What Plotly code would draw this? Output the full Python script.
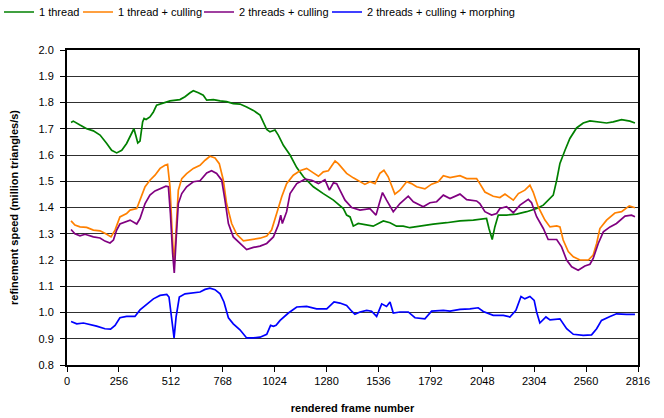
import plotly.graph_objects as go

# ---- data ----
green_x = [20, 31, 64, 97, 130, 163, 196, 220, 245, 270, 294, 319, 330, 340, 349, 360, 373, 380, 390, 409, 426, 442, 475, 508, 557, 582, 607, 623, 648, 672, 689, 722, 755, 787, 820, 853, 886, 919, 952, 968, 985, 1001, 1026, 1042, 1067, 1100, 1133, 1166, 1215, 1264, 1314, 1363,
           1379, 1396, 1404, 1412, 1436, 1478, 1510, 1560, 1593, 1625, 1658, 1691, 1741, 1806, 1872, 1938, 2004, 2036, 2069, 2081, 2097, 2110, 2127, 2168, 2217, 2267, 2316, 2349, 2382, 2398, 2415, 2431, 2456, 2480, 2513, 2546, 2579, 2612, 2661, 2694, 2735, 2776, 2801]
green_y = [1.724, 1.729, 1.714, 1.700, 1.692, 1.676, 1.644, 1.618, 1.608, 1.618, 1.644, 1.682, 1.700, 1.672, 1.646, 1.653, 1.726, 1.739, 1.735, 1.745, 1.764, 1.790, 1.799, 1.806, 1.811, 1.822, 1.837, 1.845, 1.837, 1.828, 1.809, 1.811, 1.806, 1.803, 1.796, 1.794, 1.783, 1.770, 1.752, 1.726, 1.697, 1.688, 1.695, 1.676, 1.637, 1.600, 1.552, 1.517, 1.479, 1.453, 1.428, 1.396,
           1.371, 1.364, 1.345, 1.329, 1.339, 1.333, 1.329, 1.349, 1.342, 1.329, 1.329, 1.323, 1.330, 1.337, 1.342, 1.349, 1.352, 1.354, 1.358, 1.320, 1.278, 1.326, 1.371, 1.371, 1.375, 1.384, 1.396, 1.409, 1.434, 1.447, 1.504, 1.568, 1.618, 1.663, 1.703, 1.722, 1.730, 1.726, 1.722, 1.726, 1.735, 1.729, 1.722]

orange_x = [20, 39, 64, 97, 130, 163, 196, 217, 237, 261, 294, 311, 344, 360, 385, 409, 434, 459, 483, 496, 508, 518, 528, 538, 549, 566, 590, 623, 656, 681, 705, 730, 751, 771, 787, 812, 837, 870, 903, 952, 985, 1009, 1034, 1059, 1083, 1116, 1149, 1182, 1215, 1240, 1264, 1289, 1305, 1322, 1338, 1363,
            1379, 1412, 1445, 1469, 1494, 1519, 1543, 1563, 1584, 1617, 1642, 1675, 1699, 1724, 1765, 1798, 1831, 1856, 1889, 1938, 1971, 2020, 2036, 2061, 2102, 2135, 2160, 2176, 2201, 2226, 2258, 2283, 2299, 2324, 2357, 2382, 2415, 2431, 2447, 2472, 2497, 2530, 2571, 2595, 2612, 2628, 2661, 2702, 2735, 2773, 2801]
orange_y = [1.349, 1.333, 1.326, 1.324, 1.314, 1.311, 1.298, 1.288, 1.314, 1.364, 1.377, 1.390, 1.396, 1.428, 1.479, 1.504, 1.523, 1.549, 1.561, 1.564, 1.479, 1.314, 1.180, 1.314, 1.466, 1.510, 1.529, 1.549, 1.561, 1.580, 1.595, 1.589, 1.567, 1.504, 1.415, 1.339, 1.298, 1.273, 1.278, 1.283, 1.291, 1.314, 1.377, 1.441, 1.491, 1.523, 1.540, 1.549, 1.532, 1.519, 1.536, 1.540, 1.558, 1.577, 1.567, 1.544,
            1.530, 1.513, 1.498, 1.488, 1.498, 1.491, 1.530, 1.542, 1.517, 1.451, 1.466, 1.498, 1.491, 1.479, 1.471, 1.489, 1.498, 1.521, 1.514, 1.521, 1.510, 1.510, 1.491, 1.459, 1.443, 1.438, 1.451, 1.441, 1.428, 1.453, 1.466, 1.485, 1.459, 1.402, 1.352, 1.326, 1.330, 1.326, 1.276, 1.232, 1.212, 1.200, 1.200, 1.219, 1.263, 1.320, 1.352, 1.379, 1.384, 1.406, 1.399]

purple_x = [20, 39, 64, 89, 130, 163, 187, 212, 229, 245, 261, 286, 311, 344, 360, 385, 409, 434, 459, 488, 500, 510, 521, 529, 538, 549, 566, 590, 623, 656, 689, 713, 738, 763, 779, 796, 820, 853, 886, 919, 952, 985, 1018, 1042, 1054, 1062, 1083, 1100, 1133, 1174, 1207, 1240, 1272, 1294, 1314, 1330, 1355,
            1371, 1404, 1445, 1494, 1524, 1540, 1556, 1576, 1609, 1642, 1683, 1708, 1757, 1790, 1823, 1856, 1889, 1938, 1971, 2020, 2036, 2061, 2094, 2119, 2135, 2168, 2201, 2234, 2275, 2291, 2316, 2349, 2373, 2415, 2439, 2464, 2489, 2521, 2554, 2579, 2595, 2620, 2645, 2678, 2710, 2752, 2784, 2801]
purple_y = [1.316, 1.300, 1.292, 1.298, 1.288, 1.284, 1.272, 1.265, 1.276, 1.314, 1.337, 1.346, 1.352, 1.337, 1.358, 1.415, 1.447, 1.463, 1.472, 1.481, 1.479, 1.377, 1.225, 1.151, 1.276, 1.415, 1.453, 1.479, 1.498, 1.502, 1.532, 1.540, 1.530, 1.504, 1.428, 1.339, 1.288, 1.263, 1.240, 1.248, 1.253, 1.263, 1.288, 1.333, 1.371, 1.339, 1.384, 1.453, 1.491, 1.508, 1.504, 1.491, 1.506, 1.466, 1.494, 1.491, 1.453,
            1.428, 1.400, 1.390, 1.396, 1.371, 1.415, 1.457, 1.428, 1.384, 1.415, 1.443, 1.422, 1.403, 1.418, 1.422, 1.447, 1.434, 1.451, 1.430, 1.425, 1.415, 1.384, 1.371, 1.377, 1.396, 1.403, 1.380, 1.409, 1.431, 1.418, 1.365, 1.320, 1.278, 1.278, 1.250, 1.200, 1.174, 1.161, 1.177, 1.184, 1.206, 1.263, 1.307, 1.326, 1.339, 1.367, 1.371, 1.365]

blue_x = [20, 48, 81, 113, 146, 187, 215, 237, 261, 294, 335, 360, 393, 426, 459, 492, 503, 516, 528, 538, 554, 582, 623, 656, 681, 705, 730, 755, 774, 796, 820, 853, 886, 919, 952, 985, 1004, 1018, 1031, 1051, 1092, 1133, 1182, 1231, 1281, 1317, 1346, 1379, 1404, 1420,
          1445, 1478, 1502, 1527, 1552, 1576, 1593, 1609, 1642, 1683, 1716, 1765, 1798, 1856, 1889, 1938, 1987, 2028, 2053, 2102, 2152, 2184, 2214, 2239, 2258, 2283, 2304, 2316, 2332, 2362, 2382, 2431, 2464, 2497, 2546, 2587, 2612, 2636, 2678, 2710, 2760, 2801]
blue_y = [0.966, 0.957, 0.960, 0.955, 0.948, 0.938, 0.937, 0.951, 0.980, 0.985, 0.985, 1.010, 1.031, 1.052, 1.065, 1.069, 1.059, 0.970, 0.903, 0.983, 1.059, 1.071, 1.075, 1.078, 1.088, 1.093, 1.087, 1.071, 1.040, 0.980, 0.957, 0.934, 0.903, 0.903, 0.906, 0.917, 0.951, 0.947, 0.951, 0.970, 0.998, 1.021, 1.023, 1.014, 1.014, 1.040, 1.036, 1.027, 1.005, 0.993,
          1.002, 1.008, 1.005, 0.985, 1.033, 1.023, 1.040, 0.998, 1.002, 1.002, 0.980, 0.976, 1.005, 1.008, 1.005, 1.012, 1.014, 1.018, 1.004, 0.989, 0.989, 0.983, 1.008, 1.061, 1.052, 1.061, 1.046, 1.002, 0.960, 0.983, 0.972, 0.976, 0.938, 0.917, 0.913, 0.915, 0.938, 0.970, 0.985, 0.995, 0.993, 0.993]

series_names = ["1 thread", "1 thread + culling", "2 threads + culling", "2 threads + culling + morphing"]
series_colors = ["#008000", "#FF8000", "#800080", "#0000FF"]
x_ticks = list(range(0, 2817, 256))
x_tick_labels = [str(v) for v in x_ticks]

FONT = "Liberation Sans, Arial, sans-serif"
W, H = 664, 418
ML, MR, MT, MB = 67, 26, 50, 53
PW, PH = W - ML - MR, H - MT - MB

# legend entry positions (pixel x of each legend line start), one legend per series
legend_px = [4, 83, 204, 332]
legend_ids = ["legend", "legend2", "legend3", "legend4"]

fig = go.Figure()
for name, color, xs, ys, lid in zip(series_names, series_colors,
                                    [green_x, orange_x, purple_x, blue_x],
                                    [green_y, orange_y, purple_y, blue_y], legend_ids):
    fig.add_trace(go.Scatter(x=xs, y=ys, mode="lines", name=name, legend=lid,
                             line=dict(color=color, width=1.7)))

legend_y = 1 + (MT - 12) / PH
layout_legends = {}
for lid, px in zip(legend_ids, legend_px):
    layout_legends[lid] = dict(orientation="h", x=(px - 5 - ML) / PW, xanchor="left",
                               y=legend_y, yanchor="middle", font=dict(size=11),
                               itemwidth=30, bgcolor="rgba(0,0,0,0)", borderwidth=0)

fig.update_layout(
    width=W, height=H,
    margin=dict(l=ML, r=MR, t=MT, b=MB, pad=0, autoexpand=False),
    paper_bgcolor="white", plot_bgcolor="white",
    font=dict(family=FONT, size=11, color="black"),
    showlegend=True,
    **layout_legends,
)
fig.update_xaxes(range=[0, 2816], tickvals=x_ticks, ticktext=x_tick_labels,
                 showline=True, linecolor="black", linewidth=2, mirror=True,
                 ticks="outside", ticklen=5, tickcolor="black", tickwidth=1,
                 showgrid=False, zeroline=False, automargin=False,
                 title=dict(text="<b>rendered frame number</b>", font=dict(size=11), standoff=18))
fig.update_yaxes(range=[0.8, 2.0], dtick=0.1, tickformat=".1f",
                 showline=True, linecolor="black", linewidth=2, mirror=True,
                 ticks="outside", ticklen=5, tickcolor="black", tickwidth=1,
                 ticklabelstandoff=4,
                 showgrid=True, gridcolor="#303030", gridwidth=1, zeroline=False, automargin=False,
                 title=dict(text="<b>refinement speed (million triangles/s)</b>", font=dict(size=11), standoff=18))

fig.write_html("out.html", config={"displayModeBar": False},
               post_script="document.body.style.margin='0';document.body.style.padding='0';")
